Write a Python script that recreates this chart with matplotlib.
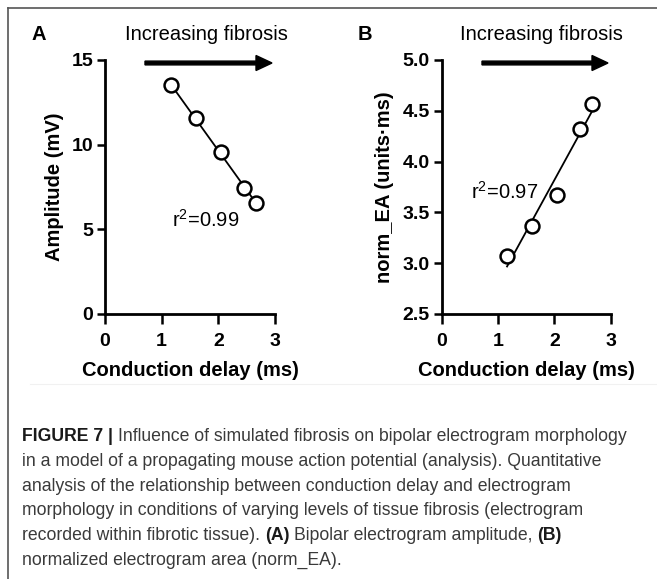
import matplotlib
matplotlib.use("Agg")
import matplotlib.pyplot as plt
from matplotlib.patches import FancyArrow
from matplotlib.lines import Line2D
import numpy as np

plt.rcParams['font.family'] = ['Liberation Sans', 'DejaVu Sans']
plt.rcParams['mathtext.fontset'] = 'custom'
plt.rcParams['mathtext.rm'] = 'Liberation Sans'
plt.rcParams['mathtext.it'] = 'Liberation Sans'

# Conduction delay (ms) for the five fibrosis levels
delay = [1.16, 1.60, 2.04, 2.45, 2.66]
# Panel A: bipolar electrogram amplitude (mV)
amplitude = [13.5, 11.56, 9.59, 7.46, 6.57]
# Panel B: normalized electrogram area (units·ms)
norm_ea = [3.07, 3.37, 3.67, 4.32, 4.57]

r2_labels = [r"r$^\mathrm{2}$=0.99", r"r$^\mathrm{2}$=0.97"]
x_ticks = [0, 1, 2, 3]
a_ticks = [0, 5, 10, 15]
b_ticks = [2.5, 3.0, 3.5, 4.0, 4.5, 5.0]

W, H = 657, 579
fig = plt.figure(figsize=(W / 100, H / 100), dpi=100)


def px(x, y):
    """Pixel position measured from the top-left corner -> figure fraction."""
    return x / W, 1 - y / H


def make_axes(left, right, top, bottom):
    x0, y0 = px(left, bottom)
    x1, y1 = px(right, top)
    return fig.add_axes([x0, y0, x1 - x0, y1 - y0])


def style(ax):
    for s in ('top', 'right'):
        ax.spines[s].set_visible(False)
    for s in ('left', 'bottom'):
        ax.spines[s].set_linewidth(2.0)
    ax.tick_params(direction='out', length=6, width=1.8, labelsize=14, pad=2.5)
    ax.tick_params(axis='x', length=7, pad=7)
    for lab in ax.get_xticklabels() + ax.get_yticklabels():
        lab.set_fontweight('bold')
    ax.patch.set_alpha(0)


def scatter_fit(ax, x, y):
    x = np.asarray(x)
    y = np.asarray(y)
    k, b = np.polyfit(x, y, 1)
    xs = np.array([x.min(), x.max()])
    ax.plot(xs, k * xs + b, color='black', lw=1.3, zorder=2, clip_on=False)
    ax.plot(x, y, 'o', ms=10, mfc='white', mec='black', mew=1.8, zorder=3,
            clip_on=False)


# Panel A
axA = make_axes(105, 275, 60, 314)
scatter_fit(axA, delay, amplitude)
axA.set_xlim(0, 3)
axA.set_ylim(0, 15)
axA.set_xticks(x_ticks)
axA.set_yticks(a_ticks)
style(axA)
axA.text(1.78, 5.55, r2_labels[0], ha='center', va='center', fontsize=14.5)

# Panel B
axB = make_axes(441.7, 610.7, 60, 314)
scatter_fit(axB, delay, norm_ea)
axB.set_xlim(0, 3)
axB.set_ylim(2.5, 5.0)
axB.set_xticks(x_ticks)
axB.set_yticks(b_ticks)
axB.set_yticklabels([f"{v:.1f}" for v in b_ticks])
style(axB)
axB.text(1.72, 3.70, r2_labels[1], ha='right', va='center', fontsize=14.5)

# Axis titles
for cx, txt in ((55, "Amplitude (mV)"), (385, "norm_EA (units·ms)")):
    fig.text(*px(cx, 187), txt, rotation=90, ha='center', va='center',
             fontsize=14.5, fontweight='bold')
for cx in (190, 526):
    fig.text(*px(cx, 370), "Conduction delay (ms)", ha='center', va='center',
             fontsize=14.5, fontweight='bold')

# Panel letters and "Increasing fibrosis" arrows
fig.text(*px(39, 34), "A", ha='center', va='center', fontsize=14.5,
         fontweight='bold')
fig.text(*px(365, 34), "B", ha='center', va='center', fontsize=14.5,
         fontweight='bold')
for cx, x0, x1 in ((206, 145, 272), (541.5, 482, 608)):
    fig.text(*px(cx, 35), "Increasing fibrosis", ha='center', va='center',
             fontsize=14.5)
    y = (H - 63) / 100
    fig.patches.append(FancyArrow(x0 / 100, y, (x1 - x0) / 100, 0,
                                  width=0.038, head_width=0.15,
                                  head_length=0.16, length_includes_head=True,
                                  color='black', transform=fig.dpi_scale_trans,
                                  figure=fig))

# Frame lines of the figure box
fig.add_artist(Line2D([8 / W, 1], [1 - 8 / H, 1 - 8 / H], color='#555555',
                      lw=1.2, transform=fig.transFigure))
fig.add_artist(Line2D([8 / W, 8 / W], [0, 1 - 8 / H], color='#555555',
                      lw=1.2, transform=fig.transFigure))
fig.add_artist(Line2D([30 / W, 1], [1 - 384 / H, 1 - 384 / H],
                      color='#f1f1f1', lw=0.8, transform=fig.transFigure))

# Caption with bold runs
caption = [
    [("FIGURE 7 |", True), ("Influence of simulated fibrosis on bipolar electrogram morphology", False)],
    [("in a model of a propagating mouse action potential (analysis). Quantitative", False)],
    [("analysis of the relationship between conduction delay and electrogram", False)],
    [("morphology in conditions of varying levels of tissue fibrosis (electrogram", False)],
    [("recorded within fibrotic tissue).", False), ("(A)", True),
     ("Bipolar electrogram amplitude,", False), ("(B)", True)],
    [("normalized electrogram area (norm_EA).", False)],
]
cap_size = 12.7
renderer = fig.canvas.get_renderer()


def text_width(s, bold):
    t = fig.text(0, 0, s, fontsize=cap_size,
                 fontweight='bold' if bold else 'normal')
    w = t.get_window_extent(renderer).width
    t.remove()
    return w


space = text_width("a a", False) - text_width("aa", False)
baseline0 = 441
for i, runs in enumerate(caption):
    xpix = 22
    ypix = baseline0 + i * 24.8
    for j, (s, bold) in enumerate(runs):
        color = '#1a1a1a' if bold else '#3a3a3a'
        t = fig.text(*px(xpix, ypix), s, fontsize=cap_size, va='baseline',
                     ha='left', color=color,
                     fontweight='bold' if bold else 'normal')
        xpix += t.get_window_extent(renderer).width + space

fig.savefig("out.png", dpi=100)
